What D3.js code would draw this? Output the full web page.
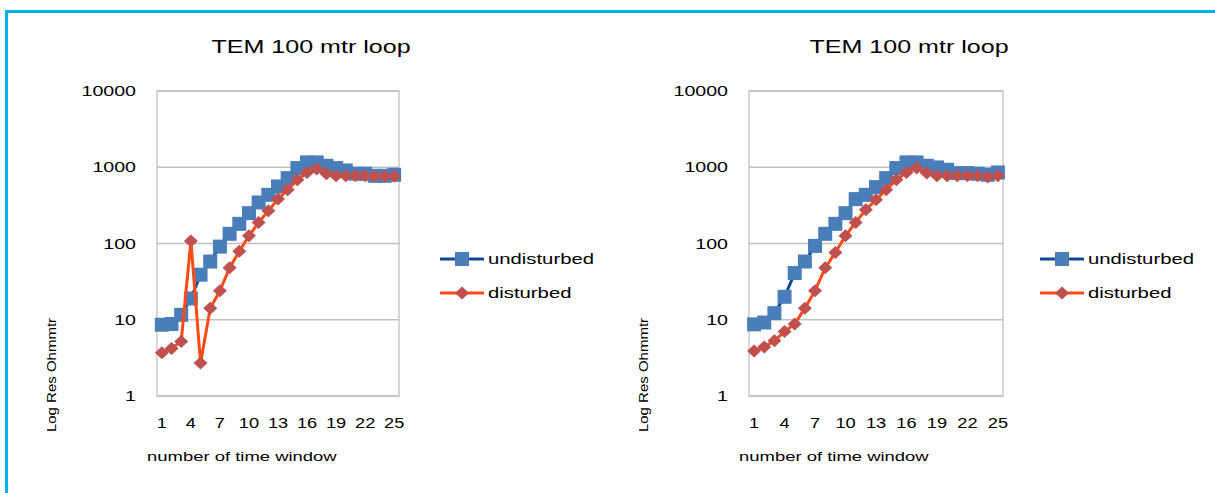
<!DOCTYPE html>
<html>
<head>
<meta charset="utf-8">
<script src="https://cdn.jsdelivr.net/npm/d3@7"></script>
<style>
  html, body { margin: 0; padding: 0; background: #fff; }
  svg { display: block; }
  text { font-family: "Liberation Sans", Arial, sans-serif; fill: #000; }
</style>
</head>
<body>
<svg id="chart" width="1215" height="493"></svg>
<script>
// Time-window numbers on the x axis
const windows = d3.range(1, 26);
const xTickLabels = [1, 4, 7, 10, 13, 16, 19, 22, 25];
const yTickLabels = [1, 10, 100, 1000, 10000];

// Panel A: apparent resistivity (Ohm·m) per time window
const undisturbedA = [8.6, 8.8, 11.6, 19, 39, 58, 91, 134, 181, 250, 345, 435, 560, 720, 975, 1157, 1157, 1046, 975, 908, 822, 822, 773, 773, 797];
const disturbedA   = [3.7, 4.2, 5.2, 108, 2.7, 14.2, 24, 48, 79, 126, 189, 268, 382, 507, 685, 855, 946, 822, 773, 773, 773, 773, 760, 760, 760];

// Panel B
const undisturbedB = [8.7, 9.2, 12.2, 20, 41, 58, 93, 134, 181, 250, 382, 435, 549, 720, 975, 1157, 1157, 1046, 995, 927, 838, 838, 822, 797, 855];
const disturbedB   = [3.9, 4.4, 5.3, 7.0, 8.8, 14.2, 24, 48, 76, 126, 189, 277, 374, 507, 685, 855, 975, 838, 773, 773, 773, 773, 773, 743, 773];

const titleText = "TEM 100 mtr loop";
const seriesNames = ["undisturbed", "disturbed"];

const svg = d3.select("#chart");

// outer frame (top and left edges)
svg.append("path")
  .attr("d", "M6.5,493 V11.5 H1215")
  .attr("fill", "none")
  .attr("stroke", "#00b0f0")
  .attr("stroke-width", 3);

// text that is widened horizontally around its anchor point
function stretchedText(g, x, y, str, size, sx, anchor) {
  return g.append("text")
    .attr("transform", `translate(${x},${y}) scale(${sx},1)`)
    .attr("text-anchor", anchor || "start")
    .attr("dominant-baseline", "central")
    .style("font-size", size + "px")
    .text(str);
}

const squareSize = 14;
const diamondPath = "M0,-6.5 L7,0 L0,6.5 L-7,0 Z";

function drawPanel(cfg, undisturbed, disturbed) {
  const g = svg.append("g");
  const x = d3.scaleBand().domain(windows).range([cfg.left, cfg.right]).padding(0);
  const cx = d => x(d) + x.bandwidth() / 2;
  const y = d3.scaleLog().domain([1, 10000]).range([cfg.bottom, cfg.top]);

  // gridlines
  g.append("g").selectAll("line").data(yTickLabels).join("line")
    .attr("x1", cfg.left).attr("x2", cfg.right)
    .attr("y1", d => y(d)).attr("y2", d => y(d))
    .attr("stroke", "#c0c0c0").attr("stroke-width", 1.3);

  // plot border
  g.append("rect")
    .attr("x", cfg.left).attr("y", cfg.top)
    .attr("width", cfg.right - cfg.left).attr("height", cfg.bottom - cfg.top)
    .attr("fill", "none").attr("stroke", "#c0c0c0").attr("stroke-width", 1.3);

  // y axis labels
  const yAxis = d3.axisLeft(y).tickValues(yTickLabels).tickFormat(d3.format("d")).tickSize(0).tickPadding(0);
  const ya = g.append("g").attr("transform", `translate(${cfg.left - 21},0)`).call(yAxis);
  ya.select(".domain").remove();
  ya.selectAll("text")
    .attr("x", 0).attr("dy", null)
    .attr("dominant-baseline", "central")
    .attr("transform", "scale(1.4,1)")
    .style("font-size", "14px").style("font-family", "Liberation Sans, Arial, sans-serif");

  // x axis labels
  const xAxis = d3.axisBottom(x).tickValues(xTickLabels).tickSize(0).tickPadding(0);
  const xa = g.append("g").attr("transform", `translate(0,${cfg.bottom + 27})`).call(xAxis);
  xa.select(".domain").remove();
  xa.selectAll(".tick text")
    .attr("y", 0).attr("dy", null)
    .attr("dominant-baseline", "central")
    .attr("transform", "scale(1.3,1)")
    .style("font-size", "14px").style("font-family", "Liberation Sans, Arial, sans-serif");

  // titles
  stretchedText(g, (cfg.left + cfg.right) / 2 + 33, 47, titleText, 19, 1.32, "middle");
  stretchedText(g, cfg.left - 10, 457, "number of time window", 13, 1.42, "start");
  g.append("text")
    .attr("transform", `translate(${cfg.yTitleX},375) rotate(-90) scale(1.25,1)`)
    .attr("text-anchor", "middle")
    .attr("dominant-baseline", "central")
    .style("font-size", "12px")
    .text("Log Res Ohmmtr");

  const line = d3.line().x((d, i) => cx(windows[i])).y(d => y(d));

  // undisturbed
  g.append("path").datum(undisturbed).attr("d", line)
    .attr("fill", "none").attr("stroke", "#0d4a92").attr("stroke-width", 3).attr("stroke-linejoin", "round");
  g.append("g").selectAll("rect").data(undisturbed).join("rect")
    .attr("x", (d, i) => cx(windows[i]) - squareSize / 2).attr("y", d => y(d) - squareSize / 2)
    .attr("width", squareSize).attr("height", squareSize)
    .attr("fill", "#4a7ebb");

  // disturbed
  g.append("path").datum(disturbed).attr("d", line)
    .attr("fill", "none").attr("stroke", "#ff4a14").attr("stroke-width", 3).attr("stroke-linejoin", "round");
  g.append("g").selectAll("path").data(disturbed).join("path")
    .attr("transform", (d, i) => `translate(${cx(windows[i])},${y(d)})`)
    .attr("d", diamondPath)
    .attr("fill", "#c0504d");

  // legend
  const lg = g.append("g").attr("transform", `translate(${cfg.legendX},0)`);
  const rows = [
    { name: seriesNames[0], y: 259, stroke: "#0d4a92", marker: "square" },
    { name: seriesNames[1], y: 293, stroke: "#ff4a14", marker: "diamond" }
  ];
  rows.forEach(r => {
    lg.append("line").attr("x1", 0).attr("x2", 44).attr("y1", r.y).attr("y2", r.y)
      .attr("stroke", r.stroke).attr("stroke-width", 3);
    if (r.marker === "square") {
      lg.append("rect").attr("x", 22 - squareSize / 2).attr("y", r.y - squareSize / 2)
        .attr("width", squareSize).attr("height", squareSize).attr("fill", "#4a7ebb");
    } else {
      lg.append("path").attr("transform", `translate(22,${r.y})`).attr("d", diamondPath).attr("fill", "#c0504d");
    }
    stretchedText(lg, 48, r.y, r.name, 14, 1.45, "start");
  });
}

drawPanel({ left: 157, right: 399, top: 91, bottom: 396, yTitleX: 52, legendX: 440 }, undisturbedA, disturbedA);
drawPanel({ left: 749, right: 1003, top: 91, bottom: 396, yTitleX: 644, legendX: 1040 }, undisturbedB, disturbedB);
</script>
</body>
</html>
